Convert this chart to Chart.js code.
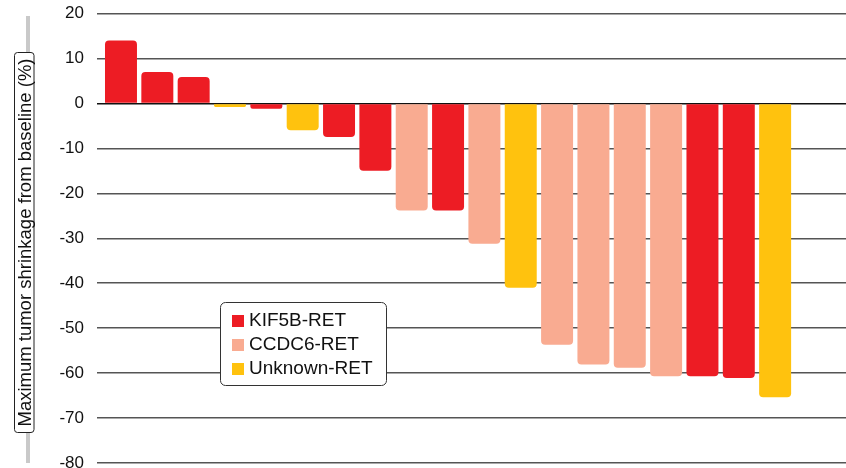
<!DOCTYPE html>
<html>
<head>
<meta charset="utf-8">
<script src="https://cdn.jsdelivr.net/npm/chart.js@4.4.1/dist/chart.umd.min.js"></script>
<style>
  html, body { margin: 0; padding: 0; background: #fff; }
  #wrap { width: 846px; height: 468px; position: relative; }
</style>
</head>
<body>
<div id="wrap"><canvas id="myChart"></canvas></div>
<script>
// patients, ordered as in the waterfall
var patients = [1, 2, 3, 4, 5, 6, 7, 8, 9, 10, 11, 12, 13, 14, 15, 16, 17, 18, 19];
var shrinkage = [14, 7, 5.9, -0.8, -1.2, -6, -7.5, -15, -23.8, -23.8, -31.2, -41, -53.7, -58.1, -58.8, -60.7, -60.7, -61.1, -65.4];
var fusion = ['KIF5B-RET', 'KIF5B-RET', 'KIF5B-RET', 'Unknown-RET', 'KIF5B-RET', 'Unknown-RET', 'KIF5B-RET', 'KIF5B-RET',
  'CCDC6-RET', 'KIF5B-RET', 'CCDC6-RET', 'Unknown-RET', 'CCDC6-RET', 'CCDC6-RET', 'CCDC6-RET', 'CCDC6-RET',
  'KIF5B-RET', 'KIF5B-RET', 'Unknown-RET'];
var fusionTypes = ['KIF5B-RET', 'CCDC6-RET', 'Unknown-RET'];
var fusionColors = ['#ED1C24', '#F9AB91', '#FFC20E'];
var yTicks = [20, 10, 0, -10, -20, -30, -40, -50, -60, -70, -80];
var yTitle = 'Maximum tumor shrinkage from baseline (%)';

var FONT = '"Liberation Sans", Arial, sans-serif';

function roundRect(ctx, x, y, w, h, r) {
  ctx.beginPath();
  ctx.moveTo(x + r, y);
  ctx.lineTo(x + w - r, y);
  ctx.arcTo(x + w, y, x + w, y + r, r);
  ctx.lineTo(x + w, y + h - r);
  ctx.arcTo(x + w, y + h, x + w - r, y + h, r);
  ctx.lineTo(x + r, y + h);
  ctx.arcTo(x, y + h, x, y + h - r, r);
  ctx.lineTo(x, y + r);
  ctx.arcTo(x, y, x + r, y, r);
  ctx.closePath();
}

// boxed y title with the grey bar behind it
var titlePlugin = {
  id: 'boxTitle',
  afterDraw: function(chart) {
    var ctx = chart.ctx, area = chart.chartArea;
    ctx.save();
    ctx.fillStyle = '#c9c9c9';
    ctx.fillRect(26, 16, 4, area.bottom - 16);
    roundRect(ctx, 14.5, 52.5, 19.5, 380, 3);
    ctx.fillStyle = '#fff';
    ctx.fill();
    ctx.strokeStyle = '#222';
    ctx.lineWidth = 1;
    ctx.stroke();
    ctx.translate(24.5, 242.5);
    ctx.rotate(-Math.PI / 2);
    ctx.fillStyle = '#111';
    ctx.font = '18.5px ' + FONT;
    ctx.textAlign = 'center';
    ctx.textBaseline = 'middle';
    ctx.fillText(yTitle, 0, 1);
    ctx.restore();
  }
};

// legend box inside the plot
var legendPlugin = {
  id: 'boxLegend',
  afterDraw: function(chart) {
    var ctx = chart.ctx;
    ctx.save();
    roundRect(ctx, 220.5, 302.5, 166, 83, 5);
    ctx.fillStyle = '#fff';
    ctx.fill();
    ctx.strokeStyle = '#333';
    ctx.lineWidth = 1;
    ctx.stroke();
    ctx.font = '19px ' + FONT;
    ctx.textBaseline = 'alphabetic';
    fusionTypes.forEach(function(t, i) {
      var base = 326 + i * 24;
      ctx.fillStyle = fusionColors[i];
      ctx.fillRect(232, base - 11, 12, 12);
      ctx.fillStyle = '#111';
      ctx.fillText(t, 249, base);
    });
    ctx.restore();
  }
};

var datasets = fusionTypes.map(function(t, i) {
  return {
    label: t,
    data: patients.map(function(p, j) {
      return fusion[j] === t ? { x: p, y: shrinkage[j] } : null;
    }).filter(function(d) { return d; }),
    backgroundColor: fusionColors[i],
    borderWidth: 0,
    borderRadius: 4,
    barPercentage: 0.88,
    categoryPercentage: 1,
    grouped: false
  };
});

var ctx = document.getElementById('myChart').getContext('2d');
var chart = new Chart(ctx, {
  type: 'bar',
  data: { datasets: datasets },
  options: {
    responsive: true,
    maintainAspectRatio: false,
    animation: false,
    layout: { padding: { top: 13.5, bottom: 5, left: 0, right: 0 } },
    plugins: { legend: { display: false }, tooltip: { enabled: false } },
    scales: {
      x: {
        type: 'linear',
        display: false,
        offset: false,
        min: 0.34,
        max: 20.95
      },
      y: {
        min: -80,
        max: 20,
        afterFit: function(scale) {
          scale.width = 97;
          scale.paddingTop = 0;
          scale.paddingBottom = 0;
        },
        afterBuildTicks: function(scale) {
          scale.ticks = yTicks.map(function(v) { return { value: v }; });
        },
        border: { display: false },
        grid: {
          drawTicks: false,
          lineWidth: 1.5,
          color: function(c) { return c.tick && c.tick.value === 0 ? '#111' : '#555'; }
        },
        ticks: {
          padding: 13,
          color: '#111',
          font: { family: FONT, size: 17 }
        }
      }
    }
  },
  plugins: [titlePlugin, legendPlugin]
});
</script>
</body>
</html>
